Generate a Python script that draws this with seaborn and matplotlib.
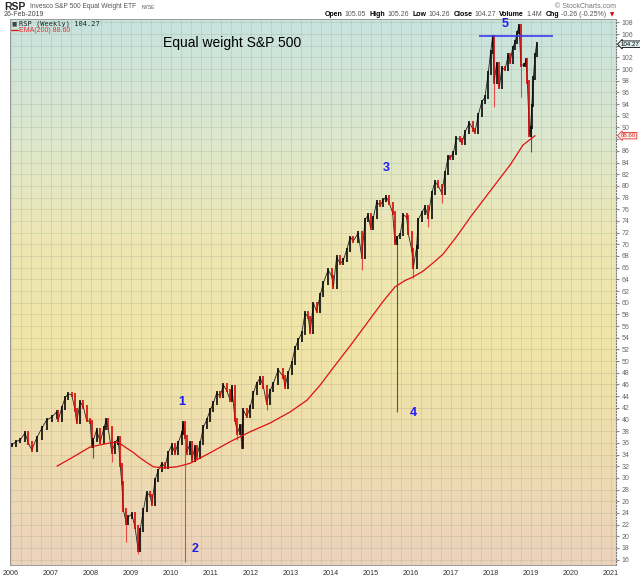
import numpy as np
import matplotlib.pyplot as plt
import seaborn as sns
from matplotlib.colors import LinearSegmentedColormap

# =========================
# DATA
# =========================

dates = [
    2006.02, 2006.12, 2006.23, 2006.35, 2006.43, 2006.52, 2006.64, 2006.77, 2006.89,
    2007.02, 2007.14, 2007.18, 2007.27, 2007.35, 2007.43, 2007.52, 2007.60, 2007.64,
    2007.73, 2007.81, 2007.89, 2007.98, 2008.02, 2008.06, 2008.14, 2008.23, 2008.32,
    2008.38, 2008.43, 2008.52, 2008.60, 2008.68, 2008.73, 2008.77, 2008.81, 2008.88,
    2008.93, 2009.02, 2009.10, 2009.18, 2009.23, 2009.31, 2009.39, 2009.48, 2009.52,
    2009.60, 2009.68, 2009.77, 2009.85, 2009.93, 2010.02, 2010.10, 2010.18, 2010.27,
    2010.31, 2010.35, 2010.39, 2010.48, 2010.52, 2010.60, 2010.64, 2010.73, 2010.81,
    2010.89, 2010.98, 2011.06, 2011.14, 2011.23, 2011.31, 2011.39, 2011.48, 2011.52,
    2011.60, 2011.66, 2011.73, 2011.77, 2011.81, 2011.89, 2011.98, 2012.06, 2012.14,
    2012.23, 2012.31, 2012.39, 2012.48, 2012.56, 2012.68, 2012.81, 2012.85, 2012.93,
    2013.02, 2013.10, 2013.18, 2013.27, 2013.35, 2013.43, 2013.48, 2013.56, 2013.64,
    2013.73, 2013.81, 2013.93, 2014.02, 2014.06, 2014.14, 2014.23, 2014.31, 2014.39,
    2014.48, 2014.56, 2014.68, 2014.77, 2014.85, 2014.93, 2014.99, 2015.06, 2015.14,
    2015.23, 2015.31, 2015.38, 2015.46, 2015.54, 2015.60, 2015.64, 2015.73, 2015.81,
    2015.89, 2015.93, 2016.02, 2016.06, 2016.14, 2016.18, 2016.27, 2016.35, 2016.43,
    2016.52, 2016.60, 2016.68, 2016.77, 2016.85, 2016.93, 2016.98, 2017.06, 2017.13,
    2017.23, 2017.27, 2017.35, 2017.46, 2017.56, 2017.60, 2017.68, 2017.77, 2017.85,
    2017.93, 2017.99, 2018.04, 2018.08, 2018.14, 2018.21, 2018.27, 2018.35, 2018.43,
    2018.48, 2018.54, 2018.60, 2018.66, 2018.70, 2018.75, 2018.83, 2018.88, 2018.91,
    2018.96, 2018.99, 2019.02, 2019.06, 2019.10, 2019.14,
]

closes = [
    35.6, 36.2, 36.5, 37.7, 36.0, 34.8, 36.8, 38.5, 39.9,
    40.4, 41.3, 39.9, 42.0, 43.7, 44.4, 44.2, 41.6, 39.5,
    43.0, 42.1, 39.9, 39.6, 35.5, 36.5, 38.2, 36.1, 38.5,
    39.9, 38.5, 34.4, 36.0, 36.8, 32.2, 29.1, 24.5, 22.3,
    23.3, 23.8, 21.6, 17.6, 21.1, 24.5, 27.4, 27.0, 25.4,
    29.6, 31.3, 32.5, 31.9, 34.3, 35.6, 34.3, 36.0, 37.7,
    39.4, 37.0, 34.3, 36.0, 33.1, 35.3, 33.6, 36.0, 38.7,
    39.9, 41.6, 42.8, 44.5, 44.0, 45.9, 45.0, 43.3, 45.6,
    39.9, 37.7, 39.0, 35.3, 41.6, 40.5, 42.1, 44.5, 46.2,
    47.1, 45.6, 42.8, 45.0, 46.2, 48.5, 47.3, 45.6, 48.0,
    49.7, 52.2, 53.6, 54.8, 58.2, 57.5, 55.0, 59.9, 58.5,
    61.3, 63.4, 65.6, 64.5, 62.7, 67.8, 66.7, 67.3, 69.0,
    71.2, 70.6, 71.9, 67.8, 74.2, 75.0, 72.8, 74.6, 77.2,
    76.7, 77.6, 78.1, 77.0, 75.4, 70.2, 71.2, 71.7, 75.0,
    74.7, 71.9, 69.0, 66.1, 69.5, 74.2, 75.4, 76.4, 74.7,
    78.8, 80.7, 80.0, 78.8, 82.2, 85.0, 84.8, 85.6, 88.2,
    87.9, 87.3, 89.2, 90.8, 89.6, 89.2, 92.1, 94.4, 95.2,
    99.3, 102.9, 105.5, 97.8, 101.0, 96.9, 100.2, 99.9, 102.4,
    101.2, 103.6, 104.6, 106.3, 107.5, 100.7, 100.7, 101.6, 97.8,
    88.7, 90.0, 93.8, 98.5, 102.4, 104.27,
]

# long lower shadows that stick out of the price band
wick_dates = [2008.06, 2008.52, 2008.88, 2009.18, 2010.35, 2011.66, 2012.39,
              2014.77, 2015.64, 2016.06, 2016.43, 2016.77, 2018.08, 2018.75, 2018.99]
wick_lows = [33.4, 32.7, 19.0, 17.0, 15.6, 36.5, 41.6,
             65.6, 41.3, 64.2, 73.0, 77.1, 93.5, 95.2, 85.8]

ema_dates = [2007.15, 2007.56, 2007.98, 2008.48, 2008.68, 2008.89, 2009.05, 2009.23,
             2009.40, 2009.56, 2009.81, 2010.15, 2010.48, 2010.98, 2011.48, 2011.98,
             2012.48, 2012.98, 2013.40, 2013.73, 2014.05, 2014.50, 2014.90, 2015.30,
             2015.60, 2015.85, 2016.05, 2016.30, 2016.55, 2016.80, 2016.98, 2017.17,
             2017.50, 2017.90, 2018.20, 2018.48, 2018.80, 2019.10]
ema_values = [32.0, 33.6, 35.3, 36.0, 36.1, 35.1, 34.4, 33.4,
              32.6, 31.9, 31.7, 31.9, 32.5, 34.3, 36.2, 37.9,
              39.4, 41.3, 43.3, 45.9, 48.8, 52.8, 56.5, 60.2,
              62.7, 63.8, 64.4, 65.4, 66.8, 68.3, 69.9, 71.6,
              74.8, 78.4, 81.1, 83.6, 87.0, 88.6]

wave_labels = ["1", "2", "3", "4", "5"]
wave_dates = [2010.28, 2010.60, 2015.37, 2016.05, 2018.35]
wave_prices = [43.0, 17.8, 83.1, 41.1, 107.7]

top_line_dates = [2017.70, 2019.55]
top_line_price = 105.7

year_ticks = list(range(2006, 2022))
price_ticks = list(range(16, 110, 2))

quote_parts = ["Open", "105.05", "High", "105.26", "Low", "104.26", "Close",
               "104.27", "Volume", "1.4M", "Chg", "-0.26 (-0.25%)"]

W, H = 640, 576


def fx(px):
    return px / W


def fy(py):
    return 1 - py / H


# =========================
# PLOT
# =========================

def plot_chart():
    sns.set_style("white")
    plt.rcParams['font.family'] = ['Liberation Sans', 'DejaVu Sans']

    fig = plt.figure(figsize=(6.4, 5.76), dpi=100)
    ax = fig.add_axes([fx(10), fy(565), fx(616) - fx(10), fy(19) - fy(565)])

    x0, x1 = 2005.975, 2021.125
    y0, y1 = 15.08, 108.58

    # background gradient
    cmap = LinearSegmentedColormap.from_list(
        "bg", ["#c7e3de", "#dbe7cf", "#ede7b5", "#f0e5a6", "#eedcb0", "#ecd3bc"])
    grad = np.linspace(0, 1, 256).reshape(-1, 1)
    ax.imshow(grad, extent=[x0, x1, y0, y1], aspect='auto', cmap=cmap,
              origin='upper', zorder=0)

    # price bars: up weeks black, down weeks red
    prev = [closes[0]] + closes[:-1]
    colors = ['black' if c >= p else '#d40000' for c, p in zip(closes, prev)]
    lo = [min(c, p) - 0.3 for c, p in zip(closes, prev)]
    hi = [max(c, p) + 0.3 for c, p in zip(closes, prev)]
    ax.plot(dates, closes, color='#222222', lw=0.6, zorder=3)
    ax.vlines(dates, lo, hi, colors=colors, lw=1.15, zorder=4)

    wick_colors = []
    wick_tops = []
    for d in wick_dates:
        i = dates.index(d)
        wick_colors.append('#e84a4a' if colors[i] != 'black' else '#555555')
        wick_tops.append(closes[i])
    ax.vlines(wick_dates, wick_lows, wick_tops, colors=wick_colors, lw=0.8, zorder=3)

    # EMA(200)
    sns.lineplot(x=ema_dates, y=ema_values, ax=ax, color='#e01010', lw=0.9,
                 zorder=5, legend=False)

    # blue markings
    ax.hlines(top_line_price, top_line_dates[0], top_line_dates[1],
              colors='#3a3aee', lw=1.2, zorder=6)
    for lab, d, p in zip(wave_labels, wave_dates, wave_prices):
        ax.text(d, p, lab, color='#1c1cf0', fontsize=9, fontweight='bold',
                ha='center', va='center', zorder=7)

    ax.set_xlim(x0, x1)
    ax.set_ylim(y0, y1)

    # grid and axes
    ax.set_xticks(year_ticks)
    ax.set_xticklabels([str(y) for y in year_ticks])
    ax.set_xticks(np.arange(2006, 2021.1, 0.25), minor=True)
    ax.set_yticks(price_ticks)
    # the value tags cover the 88 and 104 labels
    ax.set_yticklabels(['' if t in (88, 104) else str(t) for t in price_ticks])
    ax.yaxis.tick_right()
    ax.grid(True, which='both', color='#8f9883', lw=0.5, alpha=0.3)
    for line in ax.get_xgridlines() + ax.get_ygridlines():
        line.set_zorder(1)
    ax.tick_params(axis='x', which='major', labelsize=5.2, colors='#333333',
                   length=2, pad=1.5)
    ax.tick_params(axis='x', which='minor', length=0)
    ax.tick_params(axis='y', labelsize=5.0, labelcolor='#666666', length=2,
                   color='#888888', pad=2)
    for s in ['left', 'bottom', 'top']:
        ax.spines[s].set_color('#9a9a9a')
        ax.spines[s].set_linewidth(0.7)
    ax.spines['right'].set_linestyle(':')
    ax.spines['right'].set_color('#777777')
    ax.spines['right'].set_linewidth(0.8)

    # right-hand value tags
    ax.annotate("104.27", xy=(1.0, closes[-1]), xycoords=('axes fraction', 'data'),
                xytext=(3.5, 0), textcoords='offset points', fontsize=4.4,
                color='black', va='center', ha='left', annotation_clip=False,
                zorder=10,
                bbox=dict(boxstyle='larrow,pad=0.12', fc='#dff0ee', ec='black', lw=0.6))
    ax.annotate("88.60", xy=(1.0, ema_values[-1]), xycoords=('axes fraction', 'data'),
                xytext=(3.5, 0), textcoords='offset points', fontsize=4.4,
                color='#e03030', va='center', ha='left', annotation_clip=False,
                zorder=10,
                bbox=dict(boxstyle='larrow,pad=0.12', fc='#f7ecdf', ec='#e03030', lw=0.6))

    # header
    fig.text(fx(4), fy(7), "RSP", fontsize=7.5, fontweight='bold', va='center')
    fig.text(fx(30), fy(7), "Invesco S&P 500 Equal Weight ETF", fontsize=4.8,
             color='#555555', va='center')
    fig.text(fx(142), fy(7.5), "NYSE", fontsize=3.6, color='#555555', va='center')
    fig.text(fx(4), fy(15), "26-Feb-2019", fontsize=5, color='#444444', va='center')
    fig.text(fx(616), fy(6), "\u00a9 StockCharts.com", fontsize=5, color='#777777',
             va='center', ha='right')

    # quote line spread between x=325 and x=606, arrow after it
    fig.canvas.draw()
    renderer = fig.canvas.get_renderer()
    texts = []
    for k, txt in enumerate(quote_parts):
        bold = k % 2 == 0
        t = fig.text(0, fy(14.5), txt, fontsize=5.0,
                     fontweight='bold' if bold else 'normal',
                     color='black' if bold else '#555555', va='center')
        texts.append(t)
    widths = [t.get_window_extent(renderer).width for t in texts]
    gap_small, gap_big = 3.0, 3.0
    total = sum(widths)
    n_pairs = len(texts) // 2
    spare = (606 - 325) - total
    gap_small = max(2.0, spare * 0.3 / n_pairs)
    gap_big = max(3.0, (spare - gap_small * n_pairs) / (n_pairs - 1))
    cur = 325
    for k, (t, w) in enumerate(zip(texts, widths)):
        t.set_x(fx(cur))
        cur += w + (gap_small if k % 2 == 0 else gap_big)
    fig.text(fx(612), fy(15), "\u25bc", fontsize=4, color='#d40000', va='center',
             ha='center', family=['DejaVu Sans'])

    # legend
    fig.text(fx(12), fy(24), "\u25a0", fontsize=4, color='#444444', va='center',
             family=['DejaVu Sans'])
    fig.text(fx(19), fy(24), "RSP (Weekly) 104.27", fontsize=5, color='#222222',
             va='center', family=['DejaVu Sans Mono'])
    fig.add_artist(plt.Line2D([fx(11), fx(18)], [fy(30), fy(30)], color='#e01010', lw=0.9))
    fig.text(fx(19), fy(30), "EMA(200) 88.60", fontsize=5, color='#e03030',
             va='center')

    fig.text(fx(163), fy(43), "Equal weight S&P 500", fontsize=10, color='black',
             va='center', ha='left')

    fig.savefig("out.png", dpi=100)


def main():
    plot_chart()


if __name__ == "__main__":
    main()
